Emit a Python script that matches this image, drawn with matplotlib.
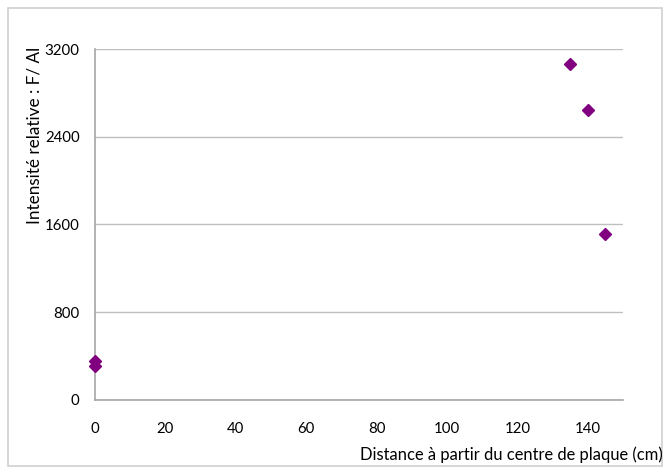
import matplotlib
matplotlib.use("Agg")
import matplotlib.pyplot as plt
from matplotlib.patches import Rectangle

distance_cm = [0, 0, 135, 140, 145]
intensity = [355, 305, 3065, 2650, 1510]
x_ticks = [0, 20, 40, 60, 80, 100, 120, 140]
y_ticks = [0, 800, 1600, 2400, 3200]
x_label = "Distance à partir du centre de plaque (cm)"
y_label = "Intensité relative : F/ Al"

plt.rcParams['font.family'] = ['Lato', 'DejaVu Sans']

W, H = 670, 473
fig = plt.figure(figsize=(W / 100, H / 100), dpi=100)
fig.patch.set_facecolor('white')

# outer chart border
fig.patches.append(Rectangle((8 / W, 1 - 466 / H), 654 / W, 458 / H,
                             transform=fig.transFigure, fill=False,
                             edgecolor='#d0d0d0', linewidth=1.2))

ax = fig.add_axes([95 / W, 1 - 399.5 / H, 528 / W, 350 / H])
ax.set_xlim(0, 150)
ax.set_ylim(0, 3200)
ax.set_xticks(x_ticks)
ax.set_yticks(y_ticks)
ax.set_xticklabels([str(v) for v in x_ticks])
ax.set_yticklabels([str(v) for v in y_ticks])
ax.tick_params(axis='both', length=0, labelsize=10.8, colors='#000000')
ax.tick_params(axis='x', pad=16)
ax.tick_params(axis='y', pad=11)
ax.grid(axis='y', color='#bfbfbf', linewidth=1)
ax.set_axisbelow(True)
for s in ['top', 'right']:
    ax.spines[s].set_visible(False)
for s in ['left', 'bottom']:
    ax.spines[s].set_color('#a6a6a6')
    ax.spines[s].set_linewidth(1.2)

ax.plot(distance_cm, intensity, linestyle='none', marker='D', markersize=6,
        color='#800080', clip_on=False, zorder=3)

fig.text(360 / W, 1 - 455 / H, x_label, fontsize=11.9, ha='left', va='center')
fig.text(35 / W, 1 - 135 / H, y_label, fontsize=12.3, ha='center', va='center',
         rotation=90)

fig.savefig('out.png', dpi=100)
